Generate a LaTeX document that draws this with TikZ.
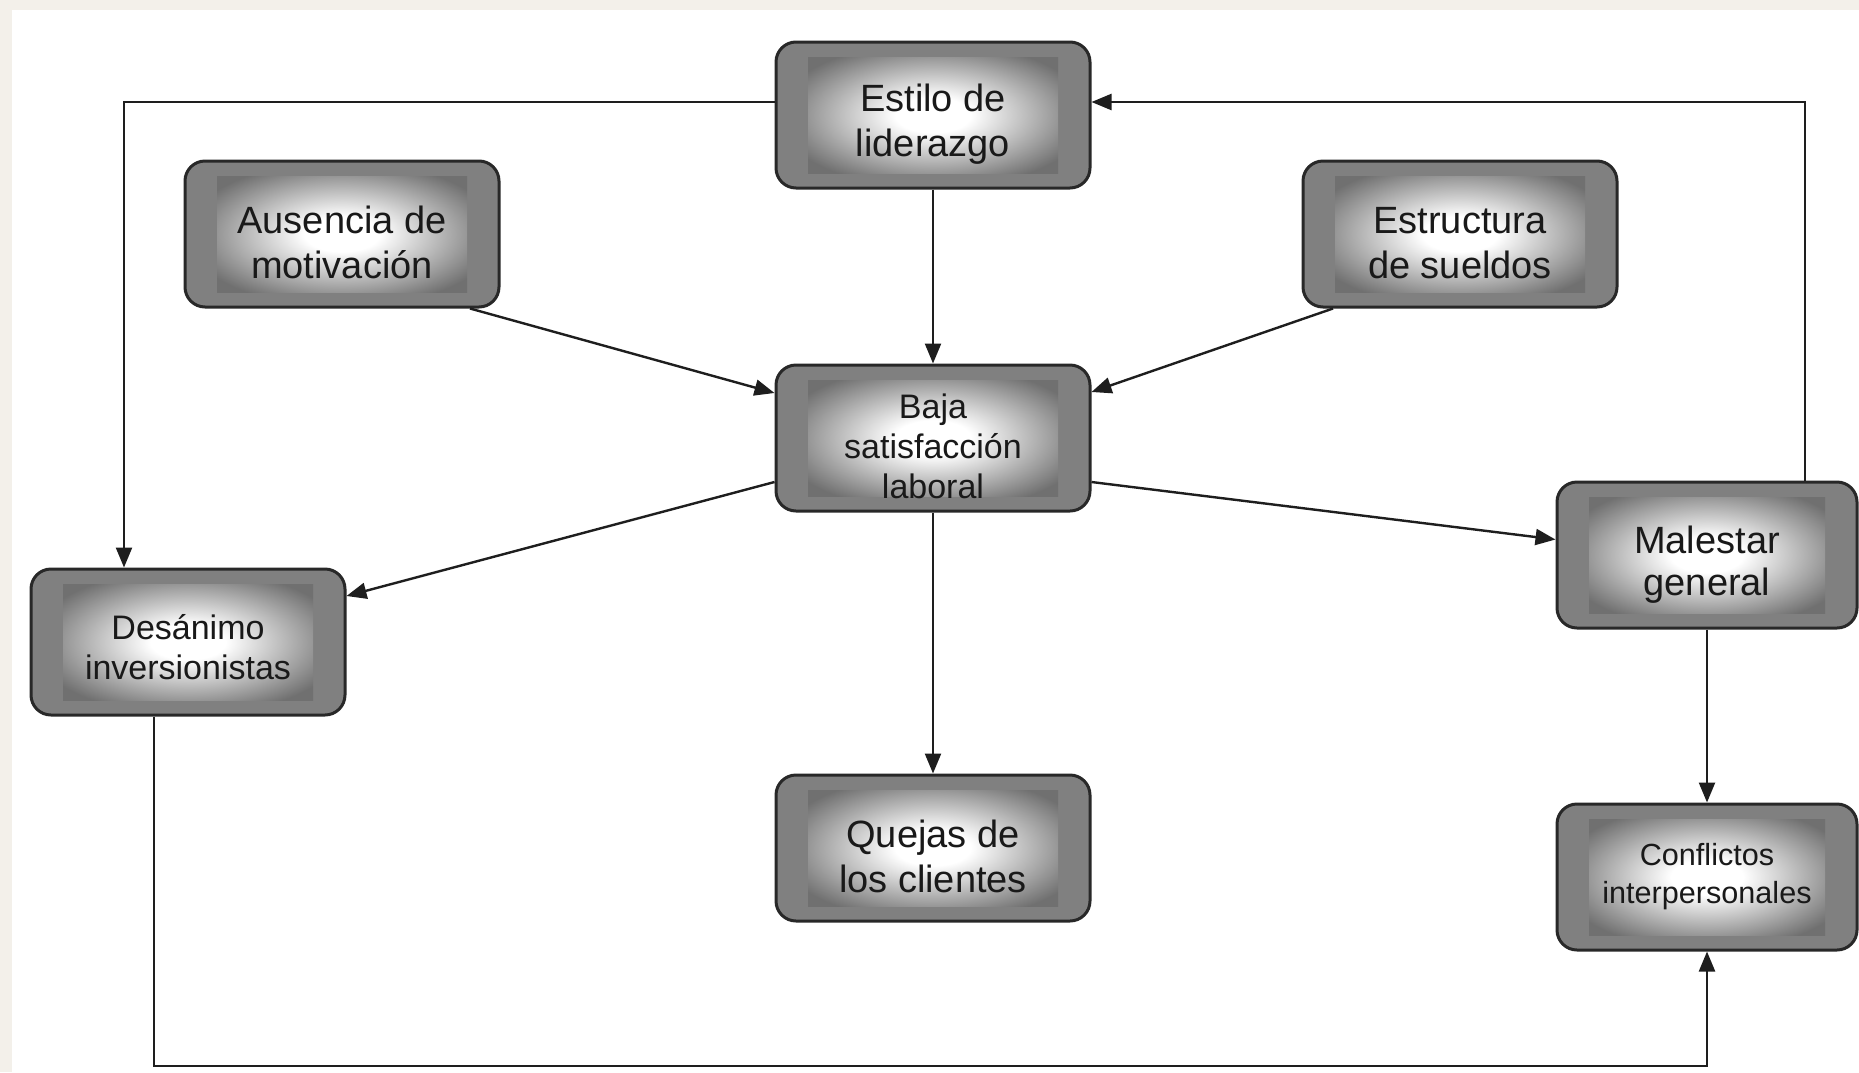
\documentclass[tikz,border=0pt]{standalone}
\usepackage{fontspec}
\setmainfont{Liberation Sans}
\usetikzlibrary{arrows.meta,calc}
\definecolor{beige}{RGB}{243,240,234}
\definecolor{ringgray}{RGB}{128,128,128}
\definecolor{innergray}{RGB}{112,112,112}
\definecolor{edgecol}{RGB}{40,40,40}
\definecolor{linecol}{RGB}{30,30,30}
\pgfdeclareradialshading{burst}{\pgfpoint{0bp}{0bp}}{color(0bp)=(white); color(6bp)=(white); color(25bp)=(innergray); color(50bp)=(innergray)}
\newcommand\dn[1]{\rule{0pt}{#1}}
\tikzset{
  box/.style={draw=edgecol, line width=1.5pt, rounded corners=10pt, fill=ringgray,
    minimum width=157pt, minimum height=73pt, inner sep=0pt, align=center, text=black!90,
    path picture={\shade[shading=burst, sharp corners]
      ([xshift=16pt,yshift=7.5pt]path picture bounding box.south west) rectangle
      ([xshift=-16pt,yshift=-7.5pt]path picture bounding box.north east);}},
  big/.style={font=\fontsize{19}{22.5}\selectfont},
  mid/.style={font=\fontsize{17}{20}\selectfont},
  small/.style={font=\fontsize{15.3}{19}\selectfont},
  arr/.style={draw=linecol, line width=1.2pt, -{Triangle[length=10pt,width=8pt]}},
}
\begin{document}
\begin{tikzpicture}[x=0.5pt,y=-0.5pt]
\useasboundingbox (0,0) rectangle (1859,1072);
\fill[white] (0,0) rectangle (1859,1072);
\fill[beige] (0,0) rectangle (12,1072);
\fill[beige] (0,0) rectangle (1859,10);

\node[box,big] (estilo) at (933,115) {\dn{22.5pt}Estilo de\\liderazgo};
\node[box,big] (ausencia) at (342,234) {\dn{22.5pt}Ausencia de\\motivación};
\node[box,big] (estructura) at (1460,234) {\dn{22.5pt}Estructura\\de sueldos};
\node[box,mid] (baja) at (933,438) {\dn{21pt}Baja\\satisfacción\\laboral};
\node[box,mid] (desanimo) at (188,642) {\dn{18pt}Desánimo\\inversionistas};
\node[box,big] (quejas) at (933,848) {\dn{22.5pt}Quejas de\\los clientes};
\node[box,big,minimum width=150pt,font=\fontsize{19}{21}\selectfont] (malestar) at (1707,555) {\dn{23.5pt}Malestar\\general};
\node[box,small,minimum width=150pt] (conflictos) at (1707,877) {Conflictos\\interpersonales};

\coordinate (bot) at (0,1066);

\draw[arr] ([yshift=6.5pt]estilo.west) -| ([xshift=-32pt]desanimo.north);
\draw[arr] ([xshift=49pt]malestar.north) |- ([yshift=6.5pt]estilo.east);
\draw[arr] (estilo) -- (baja);
\draw[arr] ([xshift=64pt]ausencia.south) -- ([yshift=22.5pt]baja.west);
\draw[arr] ([xshift=-63.5pt]estructura.south) -- ([yshift=23pt]baja.east);
\draw[arr] ([yshift=-22pt]baja.west) -- ([yshift=23pt]desanimo.east);
\draw[arr] ([yshift=-22pt]baja.east) -- ([yshift=7.75pt]malestar.west);
\draw[arr] (baja) -- (quejas);
\draw[arr] (malestar) -- (conflictos);
\draw[arr] ([xshift=-17pt]desanimo.south) -- ([xshift=-17pt]desanimo.south |- bot) -| (conflictos.south);
\end{tikzpicture}
\end{document}
